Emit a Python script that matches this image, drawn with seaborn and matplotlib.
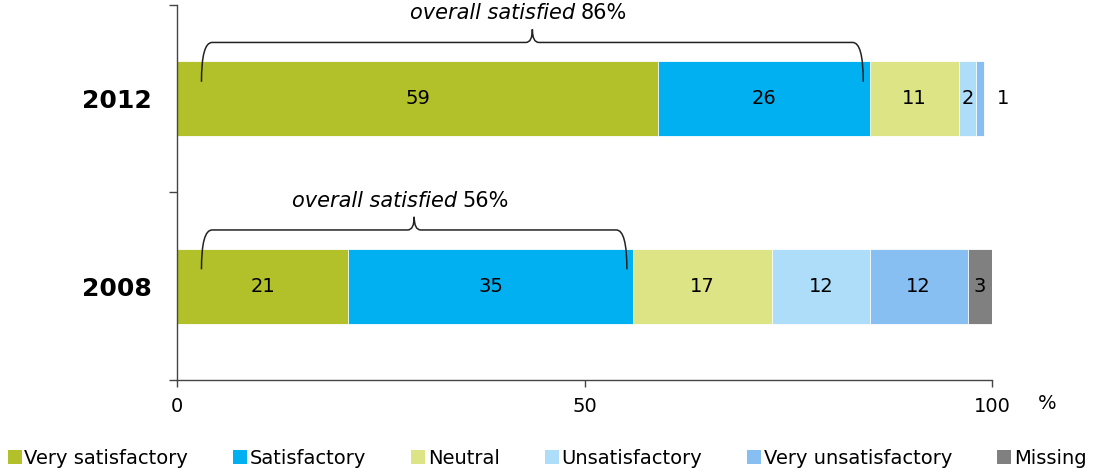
import numpy as np
import pandas as pd
import matplotlib.pyplot as plt
from matplotlib.path import Path
from matplotlib.patches import PathPatch, Patch
import seaborn as sns

# Datos
years = ['2012', '2008']
categories = ['Very satisfactory', 'Satisfactory', 'Neutral',
              'Unsatisfactory', 'Very unsatisfactory', 'Missing']
values_2012 = [59, 26, 11, 2, 1, 0]
values_2008 = [21, 35, 17, 12, 12, 3]
overall_satisfied = [86, 56]
colors = ['#B2C12A', '#00B0F0', '#DCE485', '#ADDDF8', '#88BFF2', '#808080']

sns.set_theme(style='white')
plt.rcParams['font.family'] = ['DejaVu Sans']
plt.rcParams['text.color'] = 'black'
plt.rcParams['xtick.labelcolor'] = 'black'
plt.rcParams['ytick.labelcolor'] = 'black'

rows = []
for year, vals in zip(years, [values_2012, values_2008]):
    cum = np.cumsum(vals)
    for cat, v, c in zip(categories, vals, cum):
        rows.append({'year': year, 'cat': cat, 'value': v, 'cum': c})
df = pd.DataFrame(rows)

fig = plt.figure(figsize=(10.94, 4.72), dpi=100)
ax = fig.add_axes([0.1618, 0.195, 0.745, 0.7945])

# Barras apiladas: se dibuja de la más larga a la más corta
for cat, col in reversed(list(zip(categories, colors))):
    sub = df[df['cat'] == cat]
    sns.barplot(data=sub, x='cum', y='year', order=years, orient='h',
                color=col, width=0.4, edgecolor='white', linewidth=0.6,
                saturation=1, ax=ax)

# Etiquetas de valores
for i, year in enumerate(years):
    sub = df[df['year'] == year]
    total = sub['cum'].max()
    for _, r in sub.iterrows():
        if r['value'] == 0:
            continue
        if r['value'] < 2:
            xpos = total + 2.3
        else:
            xpos = r['cum'] - r['value'] / 2
        ax.text(xpos, i, f"{r['value']:g}", ha='center', va='center',
                fontsize=14, color='black')


# Llaves "overall satisfied"
def brace(ax, x0, x1, yc):
    y_line = yc - 0.30
    y_end = yc - 0.09
    y_peak = yc - 0.37
    xm = (x0 + x1) / 2
    cw, pw = 1.3, 0.8
    verts = [(x0, y_end), (x0, y_line), (x0 + cw, y_line),
             (xm - pw, y_line),
             (xm, y_line), (xm, y_peak),
             (xm, y_line), (xm + pw, y_line),
             (x1 - cw, y_line),
             (x1, y_line), (x1, y_end)]
    codes = [Path.MOVETO, Path.CURVE3, Path.CURVE3, Path.LINETO,
             Path.CURVE3, Path.CURVE3, Path.CURVE3, Path.CURVE3,
             Path.LINETO, Path.CURVE3, Path.CURVE3]
    ax.add_patch(PathPatch(Path(verts, codes), fill=False, edgecolor='#222222',
                           lw=1.1, clip_on=False, zorder=5))
    return xm, yc - 0.455


for i, (year, sat) in enumerate(zip(years, overall_satisfied)):
    sub = df[df['year'] == year]
    right = sub['cum'].iloc[1] - 0.8
    xm, ytxt = brace(ax, 3, right, i)
    ax.annotate('overall satisfied', xy=(xm, ytxt), xytext=(31, 0),
                textcoords='offset points', ha='right', va='center',
                fontsize=15, style='italic', color='black',
                annotation_clip=False)
    ax.annotate(f'{sat}%', xy=(xm, ytxt), xytext=(35, 0),
                textcoords='offset points', ha='left', va='center',
                fontsize=15, color='black', annotation_clip=False)

# Ejes
ax.set_xlim(0, 100)
ax.set_ylim(1.5, -0.5)
ax.set_xlabel('')
ax.set_ylabel('')
for s in ['top', 'right']:
    ax.spines[s].set_visible(False)
for s in ['left', 'bottom']:
    ax.spines[s].set_color('#444444')
    ax.spines[s].set_linewidth(1)

ax.set_xticks([0, 50, 100])
ax.tick_params(axis='x', direction='out', length=5, width=1, color='#444444',
               labelsize=14, pad=7, bottom=True)
ax.set_yticks([-0.5, 0.5, 1.5], minor=True)
ax.tick_params(axis='y', which='minor', direction='out', length=6, width=1,
               color='#444444', left=True)
ax.tick_params(axis='y', which='major', length=0, pad=18, labelsize=18)
for lab in ax.get_yticklabels():
    lab.set_fontweight('bold')

ax.annotate('%', xy=(1, 0), xycoords='axes fraction', xytext=(40, -17),
            textcoords='offset points', ha='center', va='center', fontsize=14)

# Leyenda
handles = [Patch(facecolor=c, edgecolor='none', label=l)
           for l, c in zip(categories, colors)]
fig.legend(handles=handles, loc='lower center', bbox_to_anchor=(0.5, -0.02),
           ncol=6, frameon=False, fontsize=14, handlelength=0.72,
           handleheight=0.72, handletextpad=0.15, columnspacing=2.3,
           borderaxespad=0.3)

plt.savefig('out.png', dpi=100)
